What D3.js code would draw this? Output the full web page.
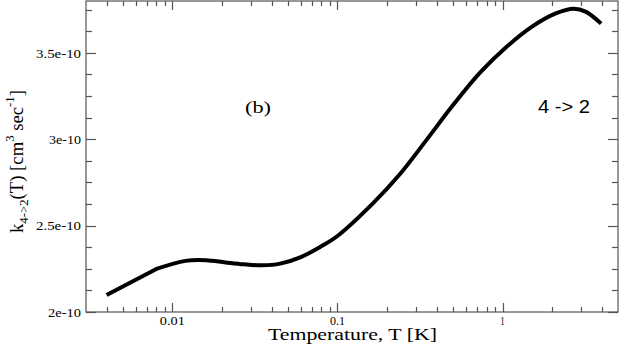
<!DOCTYPE html>
<html lang="en">
<head>
<meta charset="utf-8">
<title>k 4->2</title>
<script src="https://cdn.jsdelivr.net/npm/d3@7"></script>
<style>
  body { margin: 0; background: #fff; }
  text { font-family: "Liberation Serif", "DejaVu Serif", serif; fill: #000; }
</style>
</head>
<body>
<div id="chart"></div>
<script>
// temperature (K) and rate coefficient (units of 1e-10 cm^3 s^-1)
var temps = [0.004, 0.008, 0.012, 0.016, 0.021, 0.027, 0.035, 0.045, 0.06, 0.078, 0.1,
             0.1645, 0.24, 0.35, 0.5, 0.73, 1.05, 1.5, 2.1, 2.7, 3.2, 3.95];
var rates = [2.098, 2.249, 2.296, 2.300, 2.287, 2.276, 2.270, 2.280, 2.318, 2.375, 2.44,
             2.63, 2.800, 3.002, 3.196, 3.385, 3.532, 3.650, 3.728, 3.755, 3.737, 3.669];
var xMajor = [0.01, 0.1, 1];
var xMajorLabels = ["0.01", "0.1", "1"];
var yMajor = [2, 2.5, 3, 3.5];
var yMajorLabels = ["2e-10", "2.5e-10", "3e-10", "3.5e-10"];

var W = 621, H = 345;
var mLeft = 86, mRight = 618, mTop = 1, mBottom = 312;

var svg = d3.select("#chart").append("svg")
  .attr("width", W).attr("height", H);

var x = d3.scaleLog().domain([0.003, 5]).range([mLeft, mRight]);
var y = d3.scaleLinear().domain([2, 3.8]).range([mBottom, mTop]);

// minor ticks on x: 2..9 in each decade
var xMinor = [];
[0.001, 0.01, 0.1, 1].forEach(function(d) {
  for (var k = 2; k <= 9; k++) {
    var v = d * k;
    if (v > 0.003 && v < 5) xMinor.push(v);
  }
});
var yMinor = d3.range(2.125, 3.8, 0.125).filter(function(v) { return yMajor.indexOf(+v.toFixed(3)) < 0; });

var axisCol = "#555";
var g = svg.append("g").attr("stroke", axisCol).attr("stroke-width", 1.2).attr("fill", "none");

// ticks, all pointing inwards, on all four sides
function xt(vals, len) {
  vals.forEach(function(v) {
    var px = Math.round(x(v)) + 0.5;
    g.append("line").attr("x1", px).attr("x2", px).attr("y1", mBottom).attr("y2", mBottom - len);
    g.append("line").attr("x1", px).attr("x2", px).attr("y1", mTop).attr("y2", mTop + len);
  });
}
function yt(vals, len) {
  vals.forEach(function(v) {
    var py = Math.round(y(v)) + 0.5;
    g.append("line").attr("y1", py).attr("y2", py).attr("x1", mLeft).attr("x2", mLeft + len);
    g.append("line").attr("y1", py).attr("y2", py).attr("x1", mRight).attr("x2", mRight - len);
  });
}
xt(xMinor, 5);
xt(xMajor, 9);
yt(yMinor, 6);
yt(yMajor, 10);

g.append("rect").attr("x", mLeft).attr("y", mTop)
  .attr("width", mRight - mLeft).attr("height", mBottom - mTop);

// tick labels
var xLabW = [25, 15, 4];
xMajor.forEach(function(v, i) {
  svg.append("text").attr("x", x(v)).attr("y", 324.5)
    .attr("text-anchor", "middle").attr("font-size", 12.5)
    .attr("textLength", xLabW[i]).attr("lengthAdjust", "spacingAndGlyphs")
    .text(xMajorLabels[i]);
});
var yLabW = [33, 45, 32, 45];
yMajor.forEach(function(v, i) {
  svg.append("text").attr("x", 81 - yLabW[i]).attr("y", y(v) + 4.8)
    .attr("font-size", 12.5)
    .attr("textLength", yLabW[i]).attr("lengthAdjust", "spacingAndGlyphs")
    .text(yMajorLabels[i]);
});

// axis titles
svg.append("text").attr("x", 268).attr("y", 339.5)
  .attr("font-size", 16.5)
  .attr("textLength", 169).attr("lengthAdjust", "spacingAndGlyphs")
  .text("Temperature, T [K]");

var yl = svg.append("text")
  .attr("transform", "translate(23,233) rotate(-90)")
  .attr("font-size", 19)
  .attr("textLength", 143).attr("lengthAdjust", "spacingAndGlyphs");
yl.append("tspan").text("k");
yl.append("tspan").attr("font-size", 13).attr("dy", 5).text("4->2");
yl.append("tspan").attr("dy", -5).text("(T) [cm");
yl.append("tspan").attr("font-size", 13).attr("dy", -9).text("3");
yl.append("tspan").attr("dy", 9).text(" sec");
yl.append("tspan").attr("font-size", 13).attr("dy", -9).text("-1");
yl.append("tspan").attr("dy", 9).text("]");

// panel annotations
svg.append("text").attr("x", 245).attr("y", 113)
  .attr("font-size", 17)
  .attr("textLength", 26).attr("lengthAdjust", "spacingAndGlyphs")
  .text("(b)");
svg.append("text").attr("x", 538).attr("y", 112.5)
  .attr("font-size", 17.5)
  .style("font-family", "'Liberation Sans', Arial, sans-serif")
  .attr("textLength", 52).attr("lengthAdjust", "spacingAndGlyphs")
  .text("4 -> 2");

// the curve: straight first segment, smooth from the kink at 0.008 on
var pts = d3.zip(temps, rates);
var line = d3.line()
  .x(function(d) { return x(d[0]); })
  .y(function(d) { return y(d[1]); })
  .curve(d3.curveCatmullRom.alpha(0.5));

var d0 = "M" + x(pts[0][0]) + "," + y(pts[0][1]) + "L" + line(pts.slice(1)).slice(1);

svg.append("path")
  .attr("d", d0)
  .attr("fill", "none")
  .attr("stroke", "#000")
  .attr("stroke-width", 4)
  .attr("stroke-linejoin", "round");
</script>
</body>
</html>
